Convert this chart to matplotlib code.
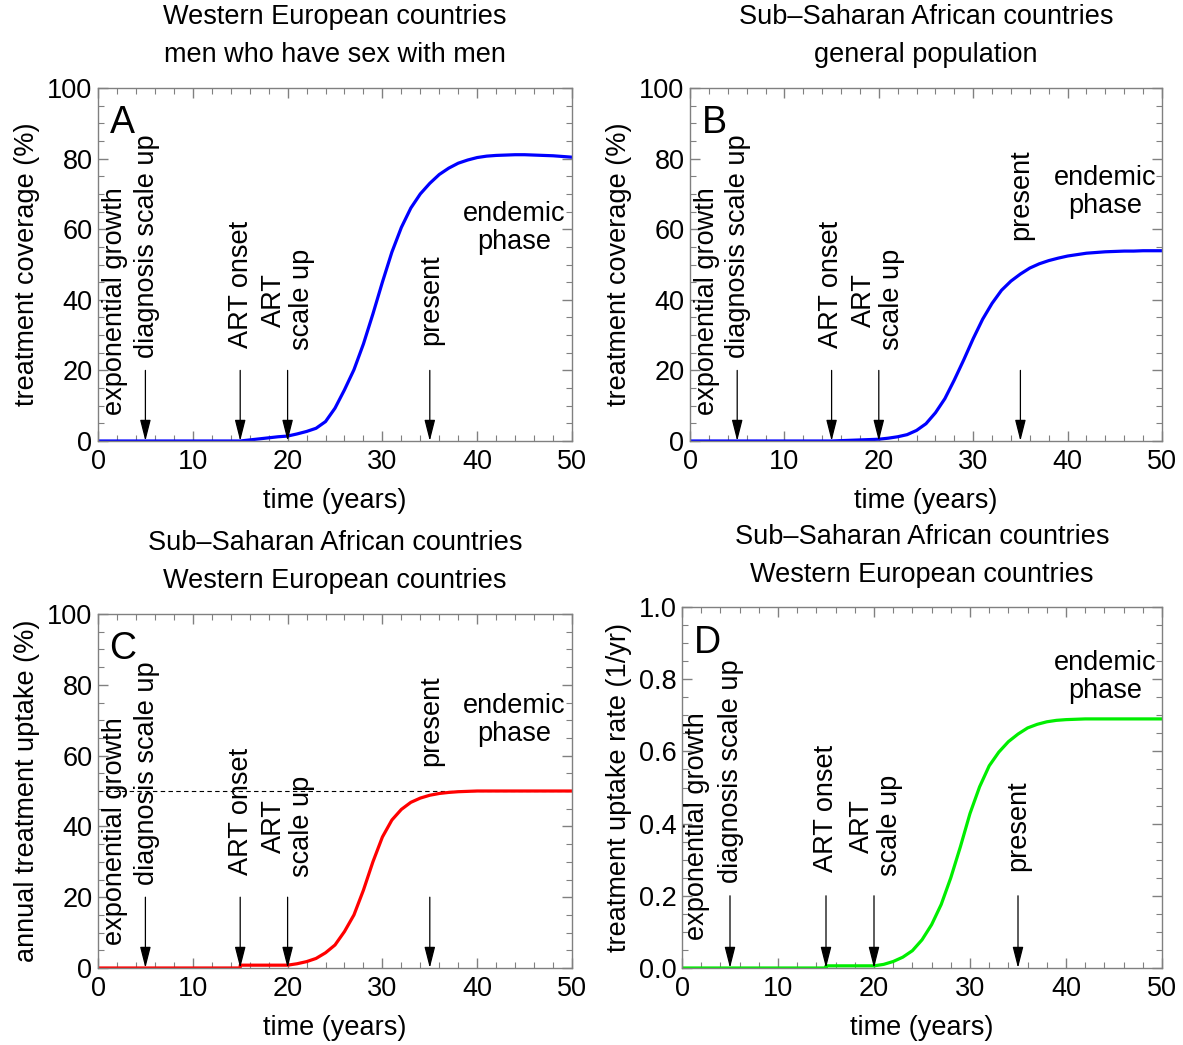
import matplotlib
matplotlib.use("Agg")
import matplotlib.pyplot as plt
from matplotlib.ticker import MultipleLocator, FormatStrFormatter

plt.rcParams['font.family'] = ['Liberation Sans', 'DejaVu Sans']

# time grid (years); 15 is repeated where the uptake curves step up
years = list(range(0, 51))
years_step = list(range(0, 16)) + [15] + list(range(16, 51))

# A: treatment coverage (%), Western Europe MSM
cov_weu = [0] * 16 + [0.3, 0.6, 0.9, 1.2, 1.4, 2.0, 2.7, 3.6, 5.5, 9.3, 14.5, 20.2, 27.5, 36.0, 45.0,
                      53.5, 60.5, 66.0, 70.0, 73.0, 75.5, 77.3, 78.7, 79.6, 80.3, 80.7, 80.9, 81.0,
                      81.1, 81.1, 81.0, 80.9, 80.8, 80.6, 80.4]
# B: treatment coverage (%), Sub-Saharan Africa
cov_ssa = [0] * 16 + [0.1, 0.2, 0.3, 0.4, 0.5, 0.8, 1.2, 1.8, 3.0, 4.9, 8.0, 12.0, 17.3, 23.0, 29.0,
                      34.5, 39.0, 42.7, 45.3, 47.3, 49.0, 50.2, 51.1, 51.8, 52.4, 52.8, 53.2, 53.4,
                      53.6, 53.7, 53.8, 53.8, 53.9, 53.9, 53.9]
# C: annual treatment uptake (%)
uptake_pct = [0] * 16 + [0.8] + [0.8, 0.8, 0.8, 0.8, 0.8, 1.2, 1.8, 2.7, 4.3, 6.5, 10.3, 15.0, 22.0,
                                 30.0, 37.0, 41.8, 44.8, 46.8, 48.0, 48.8, 49.3, 49.6, 49.8, 49.9,
                                 50, 50, 50, 50, 50, 50, 50, 50, 50, 50, 50]
# D: treatment uptake rate (1/yr)
uptake_rate = [0] * 16 + [0.006] + [0.006, 0.006, 0.006, 0.006, 0.006, 0.01, 0.018, 0.03, 0.048,
                                    0.078, 0.12, 0.176, 0.25, 0.336, 0.428, 0.502, 0.56, 0.598,
                                    0.627, 0.648, 0.665, 0.675, 0.682, 0.686, 0.688, 0.689, 0.69,
                                    0.69, 0.69, 0.69, 0.69, 0.69, 0.69, 0.69, 0.69]

event_years = [5, 15, 20, 35]
uptake_max_pct = 50

W, H = 1183, 1045
fig = plt.figure(figsize=(W / 100, H / 100), dpi=100)


def px_axes(l, t, r, b):
    return fig.add_axes([l / W, 1 - b / H, (r - l) / W, (b - t) / H])


ax_a = px_axes(98, 88, 572, 441)
ax_b = px_axes(690, 88, 1162, 441)
ax_c = px_axes(98, 614, 572, 968)
ax_d = px_axes(682, 607, 1162, 968)

FS = 19.5
frame_col = '#808080'


def style(ax, ymax, ymajor, yminor, ylabel, fmt=None):
    ax.set_xlim(0, 50)
    ax.set_ylim(0, ymax)
    ax.xaxis.set_major_locator(MultipleLocator(10))
    ax.xaxis.set_minor_locator(MultipleLocator(2))
    ax.yaxis.set_major_locator(MultipleLocator(ymajor))
    ax.yaxis.set_minor_locator(MultipleLocator(yminor))
    if fmt:
        ax.yaxis.set_major_formatter(FormatStrFormatter(fmt))
    ax.tick_params(which='both', direction='in', top=True, right=True,
                   colors=frame_col, labelcolor='black', labelsize=FS)
    ax.tick_params(which='major', length=7, width=1)
    ax.tick_params(axis='x', which='major', pad=6)
    ax.tick_params(axis='y', which='major', pad=4)
    ax.tick_params(which='minor', length=4, width=0.8)
    for s in ax.spines.values():
        s.set_color(frame_col)
        s.set_linewidth(1)
    ax.set_xlabel('time (years)', fontsize=FS, labelpad=9)
    ax.set_ylabel(ylabel, fontsize=FS, labelpad=5)


def arrows(ax, top):
    for x in event_years:
        ax.annotate('', xy=(x, 0), xytext=(x, top),
                    arrowprops=dict(arrowstyle='-|>,head_length=1.3,head_width=0.33',
                                    color='black', lw=0.9, shrinkA=0, shrinkB=0))


def labels(ax, s, letter, pos):
    rot = dict(rotation=90, ha='center', va='bottom', fontsize=FS)
    ax.text(pos['exp'][0], pos['exp'][1] * s, 'exponential growth', **rot)
    ax.text(pos['diag'][0], pos['diag'][1] * s, 'diagnosis scale up', **rot)
    ax.text(pos['onset'][0], pos['onset'][1] * s, 'ART onset', **rot)
    ax.text(pos['art'][0], pos['art'][1] * s, 'ART\nscale up', rotation=90, ha='center',
            va='center', multialignment='center', fontsize=FS, linespacing=1.1)
    ax.text(pos['present'][0], pos['present'][1] * s, 'present', **rot)
    ax.text(pos['endemic'][0], pos['endemic'][1] * s, 'endemic\nphase', ha='center',
            va='center', multialignment='center', fontsize=FS, linespacing=1.1)
    ax.text(2.6, 90 * s, letter, ha='center', va='center', fontsize=27)


def title(lines, cx, ys):
    for line, y in zip(lines, ys):
        fig.text(cx / W, 1 - y / H, line, ha='center', va='center', fontsize=FS)


# A
style(ax_a, 100, 20, 5, 'treatment coverage (%)')
ax_a.plot(years, cov_weu, color='#0000ff', lw=2.3)
arrows(ax_a, 20)
labels(ax_a, 1, 'A', dict(exp=(1.8, 7.4), diag=(5.2, 23.5), onset=(15.1, 26.3), art=(20.0, 40.0),
                          present=(35.1, 27.2), endemic=(43.9, 60.3)))
title(['Western European countries', 'men who have sex with men'], 335, [17, 55])

# B
style(ax_b, 100, 20, 5, 'treatment coverage (%)')
ax_b.plot(years, cov_ssa, color='#0000ff', lw=2.3)
arrows(ax_b, 20)
labels(ax_b, 1, 'B', dict(exp=(1.8, 7.4), diag=(5.1, 23.5), onset=(14.9, 26.3), art=(19.9, 40.0),
                          present=(35.1, 57.0), endemic=(44.0, 70.5)))
title(['Sub\u2013Saharan African countries', 'general population'], 926, [17, 55])

# C
style(ax_c, 100, 20, 5, 'annual treatment uptake (%)')
ax_c.axhline(uptake_max_pct, color='black', lw=0.8, dashes=(4, 3))
ax_c.plot(years_step, uptake_pct, color='#ff0000', lw=2.3)
arrows(ax_c, 20)
labels(ax_c, 1, 'C', dict(exp=(1.8, 6.5), diag=(5.2, 23.5), onset=(15.1, 26.3), art=(20.0, 40.0),
                          present=(35.1, 57.0), endemic=(43.9, 70.0)))
title(['Sub\u2013Saharan African countries', 'Western European countries'], 335, [543, 581])

# D
style(ax_d, 1.0, 0.2, 0.05, 'treatment uptake rate (1/yr)', fmt='%.1f')
ax_d.plot(years_step, uptake_rate, color='#00ee00', lw=2.3)
arrows(ax_d, 0.2)
labels(ax_d, 0.01, 'D', dict(exp=(1.56, 7.8), diag=(5.1, 23.5), onset=(15.0, 26.7), art=(20.2, 39.4),
                             present=(35.0, 27.0), endemic=(44.1, 80.7)))
title(['Sub\u2013Saharan African countries', 'Western European countries'], 922, [537, 575])

fig.savefig('out.png', dpi=100)
